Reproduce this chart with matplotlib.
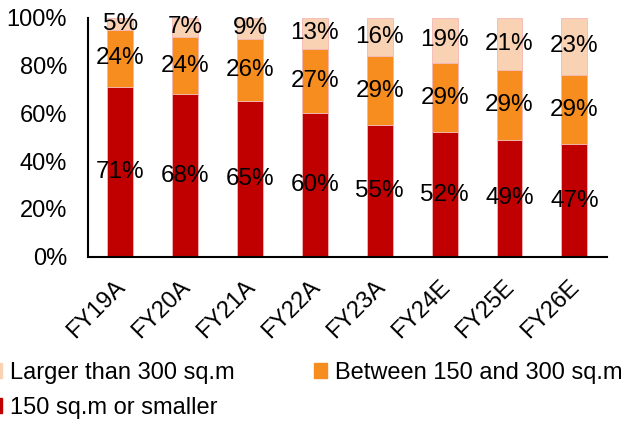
import matplotlib
matplotlib.use("Agg")
import numpy as np
import matplotlib.pyplot as plt
import matplotlib.transforms as mtrans
from matplotlib.patches import Patch

plt.rcParams['font.family'] = ['Liberation Sans', 'DejaVu Sans']

# share of stores by size (%)
years = ["FY19A", "FY20A", "FY21A", "FY22A", "FY23A", "FY24E", "FY25E", "FY26E"]
small = [71, 68, 65, 60, 55, 52, 49, 47]      # 150 sq.m or smaller
medium = [24, 24, 26, 27, 29, 29, 29, 29]     # between 150 and 300 sq.m
large = [5, 7, 9, 13, 16, 19, 21, 23]         # larger than 300 sq.m

c_small = "#C00000"
c_medium = "#F78D1E"
c_large = "#F9D2B3"

fig = plt.figure(figsize=(6.23, 4.21), dpi=100)
ax = fig.add_axes([0.141, 0.39, 0.833, 0.568])

x = np.arange(len(years))
s = np.array(small)
m = np.array(medium)
l = np.array(large)
w = 0.4
edge = dict(edgecolor="#F4B6B6", linewidth=0.6)
ax.bar(x, s, w, color=c_small, **edge)
ax.bar(x, m, w, bottom=s, color=c_medium, **edge)
# rounded shares; top segment fills to 100%
ax.bar(x, 100 - (s + m), w, bottom=s + m, color=c_large, **edge)

fs = 17
for i in range(len(years)):
    ax.text(x[i], s[i] / 2, f"{s[i]}%", ha="center", va="center", fontsize=fs + 0.5)
    ax.text(x[i], s[i] + m[i] / 2, f"{m[i]}%", ha="center", va="center", fontsize=fs + 0.5)
    top = s[i] + m[i]
    ax.text(x[i], (top + 100) / 2, f"{l[i]}%", ha="center", va="center", fontsize=fs + 0.5)

ax.set_xlim(-0.5, len(years) - 0.5)
ax.set_ylim(0, 100)
ax.set_yticks(np.arange(0, 101, 20))
ax.set_yticklabels([f"{v}%" for v in range(0, 101, 20)], fontsize=fs)
ax.set_xticks(x)
ax.set_xticklabels(years, rotation=45, ha="right", rotation_mode="anchor", fontsize=fs)
ax.tick_params(length=0)
ax.tick_params(axis="y", pad=15)
ax.tick_params(axis="x", pad=14)
shift = mtrans.ScaledTranslation(-6 / 100, 0, fig.dpi_scale_trans)
for lab in ax.get_xticklabels():
    lab.set_transform(lab.get_transform() + shift)
for sp in ["top", "right"]:
    ax.spines[sp].set_visible(False)
for sp in ["left", "bottom"]:
    ax.spines[sp].set_linewidth(1.5)

handles = [Patch(color=c_large), Patch(color=c_small), Patch(color=c_medium)]
labels = ["Larger than 300 sq.m", "150 sq.m or smaller", "Between 150 and 300 sq.m"]
fig.legend(handles, labels, ncol=2, loc="upper left", bbox_to_anchor=(-0.032, 0.163),
           frameon=False, fontsize=fs, handlelength=0.55, handleheight=0.55,
           handletextpad=0.3, columnspacing=3.4, labelspacing=0.55, borderaxespad=0)

fig.savefig("out.png", dpi=100)
